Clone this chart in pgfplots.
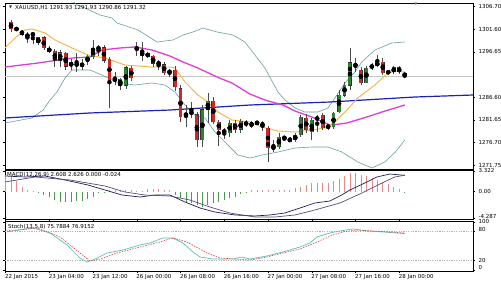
\documentclass[border=0pt]{standalone}
\usepackage{fontspec}
\setmainfont{DejaVu Sans}
\usepackage{pgfplots}
\usepackage{pgfplotstable}
\pgfplotsset{compat=1.18}
\definecolor{bullc}{HTML}{2E8036}
\definecolor{bearc}{HTML}{CC2A2A}
\definecolor{wickc}{HTML}{4A4A4A}
\definecolor{bbc}{HTML}{6A9FA0}
\definecolor{orangema}{HTML}{F2B850}
\definecolor{magma}{HTML}{E03CD8}
\definecolor{bluema}{HTML}{1A22B0}
\definecolor{histred}{HTML}{E58A8A}
\definecolor{histgreen}{HTML}{4E9A4E}
\definecolor{macdA}{HTML}{1C1C5C}
\definecolor{macdB}{HTML}{5A4A7A}
\definecolor{stochmain}{HTML}{5CC2B2}
\definecolor{stochsig}{HTML}{E03C3C}
\newcommand\tf{\fontsize{5.5}{6.5}\selectfont}

% bullish (and doji) candles: index, open, high, low, close
\pgfplotstableread{
i O H L C
2 1301.60 1301.90 1301.40 1301.70
5 1300.40 1300.90 1298.40 1300.60
10 1294.80 1297.00 1293.30 1296.40
12 1293.50 1295.10 1292.60 1294.30
13 1293.80 1296.40 1292.30 1293.90
15 1294.40 1296.00 1293.80 1295.70
16 1295.50 1299.20 1295.00 1297.30
17 1297.30 1298.10 1295.80 1297.50
20 1290.40 1292.20 1289.30 1290.60
22 1289.30 1293.60 1288.40 1293.10
24 1297.30 1298.80 1295.80 1297.50
30 1291.90 1292.90 1291.20 1292.60
33 1282.50 1285.00 1280.10 1283.20
36 1277.30 1285.00 1275.70 1283.90
37 1284.00 1287.60 1281.00 1285.80
41 1278.90 1281.60 1278.00 1281.00
43 1279.60 1281.90 1278.80 1281.40
45 1280.11 1281.50 1279.90 1281.21
46 1281.00 1281.40 1280.60 1281.10
49 1275.05 1277.20 1274.60 1276.15
50 1275.70 1278.80 1275.30 1277.90
51 1277.70 1278.10 1277.00 1277.80
53 1277.25 1278.80 1276.80 1278.35
54 1278.35 1282.70 1277.90 1282.30
56 1279.00 1282.10 1277.25 1281.65
57 1281.65 1282.70 1279.00 1282.30
60 1280.10 1283.40 1279.70 1283.20
61 1283.40 1288.20 1283.20 1287.10
62 1287.10 1290.00 1286.70 1289.30
63 1289.30 1297.50 1288.20 1294.20
66 1289.80 1293.50 1289.80 1293.10
67 1293.10 1294.20 1292.60 1293.70
68 1293.50 1295.90 1293.30 1294.40
70 1292.10 1292.60 1291.70 1292.20
71 1292.20 1293.50 1291.70 1293.10
}\bull

% bearish candles
\pgfplotstableread{
i O H L C
1 1303.18 1303.60 1301.00 1301.65
3 1301.20 1301.40 1300.20 1300.50
4 1300.50 1301.00 1298.60 1299.90
6 1299.70 1299.90 1298.10 1298.60
7 1299.70 1300.00 1297.00 1297.50
8 1297.50 1297.90 1296.30 1296.60
9 1296.80 1297.20 1293.30 1294.80
11 1296.40 1296.60 1292.60 1293.50
14 1293.80 1295.00 1292.60 1293.70
18 1297.50 1298.10 1294.10 1294.80
19 1295.00 1295.60 1284.30 1290.40
21 1290.60 1290.90 1288.20 1289.30
23 1293.10 1293.60 1290.20 1290.90
25 1296.60 1298.80 1294.60 1295.90
26 1296.20 1296.60 1295.30 1295.70
27 1295.70 1296.00 1293.30 1294.10
28 1294.20 1294.80 1292.60 1294.00
29 1293.80 1294.30 1291.60 1292.00
31 1292.60 1293.50 1288.00 1288.90
32 1288.50 1289.30 1281.20 1282.30
34 1283.30 1285.60 1282.10 1283.20
35 1282.80 1283.50 1275.70 1277.30
38 1285.80 1286.70 1280.80 1281.20
39 1281.20 1281.60 1276.00 1279.50
40 1279.40 1279.90 1277.50 1278.90
42 1281.00 1281.60 1278.80 1279.50
44 1281.21 1281.65 1280.11 1280.55
47 1281.20 1281.50 1279.20 1280.10
48 1279.90 1280.30 1272.40 1275.50
52 1277.30 1277.90 1276.80 1277.20
55 1282.10 1282.90 1278.80 1279.45
58 1282.70 1283.20 1279.45 1279.90
59 1280.50 1280.80 1279.50 1279.90
64 1294.20 1295.30 1292.20 1293.10
65 1292.60 1293.30 1289.30 1289.80
69 1294.40 1295.30 1291.50 1292.00
72 1293.10 1293.50 1291.70 1292.20
73 1291.93 1291.93 1290.86 1291.32
}\bear

% MACD histogram: positive part (r), negative part (g)
\pgfplotstableread{
i r g
0 2.70 0
1 2.43 0
2 1.62 0
3 0.81 0
4 0.27 0
5 0.10 0
6 0 -0.10
7 0 -0.54
8 0 -0.81
9 0 -1.35
10 0 -1.62
11 0 -1.62
12 0 -1.62
13 0 -1.51
14 0 -1.46
15 0 -1.24
16 0 -0.81
17 0 -0.30
18 0 -0.20
19 0.20 0
20 0.30 0
21 0.30 0
22 0.30 0
23 0.20 0
24 0.10 0
25 0.10 0
26 0.38 0
27 0.38 0
28 0.38 0
29 0.30 0
30 0.20 0
31 0 -0.54
32 0 -1.08
33 0 -1.62
34 0 -1.89
35 0 -2.16
36 0 -2.43
37 0 -2.16
38 0 -1.89
39 0 -1.62
40 0 -1.35
41 0 -1.08
42 0 -0.81
43 0 -0.43
44 0 -0.10
45 0.20 0
46 0.25 0
47 0.20 0
48 0.20 0
49 0.20 0
50 0.20 0
51 0.25 0
52 0.30 0
53 0.54 0
54 0.81 0
55 1.08 0
56 1.35 0
57 1.35 0
58 1.35 0
59 1.35 0
60 1.62 0
61 2.05 0
62 2.59 0
63 2.97 0
64 2.97 0
65 2.70 0
66 2.43 0
67 2.16 0
68 1.89 0
69 1.51 0
70 1.19 0
71 0.81 0
72 0.43 0
73 0 -0.02
}\hist

\pgfplotsset{
  panel/.style={scale only axis, width=468pt, xmin=-0.1, xmax=85.5,
    axis line style={line width=0.6pt, black},
    tick align=outside, major tick length=2pt,
    tick style={black, line width=0.4pt},
    yticklabel pos=right, ticklabel style={font=\tf},
    xtick=\empty, clip=true},
  candleW/.style={only marks, mark=none, forget plot,
    error bars/y dir=both, error bars/y explicit, error bars/error mark=none,
    error bars/error bar style={line width=0.6pt, color=wickc}},
}

\begin{document}
\begin{tikzpicture}
\path[use as bounding box] (0pt,0pt) rectangle (501pt,281pt);

% ===== main price panel =====
\begin{axis}[panel, at={(5pt,112pt)}, anchor=south west, height=166pt,
  ymin=1270.88, ymax=1307.36,
  ytick={1271.75,1276.70,1281.65,1286.60,1296.65,1301.60,1306.70},
  yticklabels={1271.75,1276.70,1281.65,1286.60,1296.65,1301.60,1306.70}]
% bid line
\addplot[gray!45, line width=0.4pt] coordinates {(-0.1,1291.32) (85.5,1291.32)};
% Bollinger bands
\addplot[bbc, line width=0.6pt] coordinates {
(9.96,1310.2) (13.07,1306.92) (14.53,1306.26) (17.28,1304.72) (19.47,1304.06)
(20.38,1302.96) (24.22,1301.43) (27.70,1298.79) (30.62,1299.23) (32.45,1300.33)
(34.28,1300.99) (36.11,1301.86) (38.67,1300.99) (41.59,1300.33) (43.78,1298.79)
(45.61,1295.93) (47.44,1293.07) (49.82,1287.80) (51.10,1286.04) (52.93,1284.28)
(54.75,1283.40) (57.13,1283.40) (58.96,1284.28) (60.24,1286.48) (62.07,1289.78)
(63.89,1292.19) (65.17,1294.39) (67.55,1297.03) (70.66,1298.57) (73.03,1298.79)};
\addplot[bbc, line width=0.6pt] coordinates {
(-0.1,1280.99) (4.84,1282.09) (6.86,1283.84) (8.14,1286.04) (9.41,1287.80)
(10.88,1290.88) (12.16,1292.63) (15.45,1292.63) (17.64,1291.53) (20.57,1289.78)
(23.67,1289.34) (26.78,1289.78) (29.16,1289.34) (30.99,1287.80) (32.82,1284.94)
(34.64,1282.75) (36.47,1282.09) (38.30,1279.01) (40.13,1276.81) (42.50,1273.95)
(44.70,1273.29) (46.89,1273.95) (49.82,1274.61) (52.93,1275.49) (56.03,1275.71)
(58.96,1275.71) (61.52,1274.61) (64.44,1272.42) (67.00,1271.10) (69.38,1272.42)
(71.30,1274.61) (73.03,1277.25)};
% blue slow MA
\addplot[bluema, line width=1.2pt] coordinates {
(-0.1,1282.09) (15.45,1283.19) (30.07,1283.84) (44.70,1284.94) (59.32,1285.60)
(74.9,1286.70) (85.5,1287.14)};
% magenta MA
\addplot[magma, line width=1.3pt] coordinates {
(-0.1,1293.29) (5.94,1294.17) (12.16,1295.27) (15.45,1295.49) (17.64,1297.03)
(20.93,1297.47) (23.67,1297.69) (26.78,1297.03) (30.07,1295.71) (32.45,1294.39)
(35.19,1293.07) (38.67,1291.10) (41.41,1289.78) (44.70,1287.36) (47.44,1286.04)
(50.73,1284.94) (52.93,1283.62) (56.03,1282.31) (59.32,1280.55) (61.15,1280.77)
(62.43,1280.99) (66.09,1282.31) (68.83,1283.40) (73.03,1284.94)};
% orange fast MA
\addplot[orangema, line width=1.0pt] coordinates {
(-0.1,1297.47) (1.74,1299.67) (3.56,1301.43) (4.84,1301.64) (7.22,1300.77)
(9.05,1299.23) (12.16,1297.47) (15.08,1295.93) (18.19,1295.27) (21.85,1293.73)
(26.78,1293.29) (30.07,1293.29) (30.99,1293.07) (32.82,1290.00) (35.19,1287.14)
(37.02,1285.60) (38.85,1283.40) (41.41,1281.65) (44.70,1281.21) (46.89,1280.11)
(49.82,1279.23) (52.93,1279.01) (56.03,1279.45) (58.41,1279.89) (60.24,1281.21)
(62.07,1283.40) (64.44,1286.48) (67.55,1289.34) (69.93,1291.97) (71.30,1292.41)
(73.03,1292.19)};
% candles: wicks
\addplot[candleW] table[x=i, y expr={(\thisrow{H}+\thisrow{L})/2}, y error expr={(\thisrow{H}-\thisrow{L})/2}] \bull;
\addplot[candleW] table[x=i, y expr={(\thisrow{H}+\thisrow{L})/2}, y error expr={(\thisrow{H}-\thisrow{L})/2}] \bear;
% bodies: thin dark outline then fill
\addplot[candleW, error bars/error bar style={line width=3.8pt, color=black!80}] table[x=i, y expr={(\thisrow{O}+\thisrow{C})/2}, y error expr={abs(\thisrow{C}-\thisrow{O})/2+0.09}] \bull;
\addplot[candleW, error bars/error bar style={line width=3.8pt, color=black!80}] table[x=i, y expr={(\thisrow{O}+\thisrow{C})/2}, y error expr={abs(\thisrow{C}-\thisrow{O})/2+0.09}] \bear;
\addplot[candleW, error bars/error bar style={line width=3.0pt, color=bullc}] table[x=i, y expr={(\thisrow{O}+\thisrow{C})/2}, y error expr={abs(\thisrow{C}-\thisrow{O})/2}] \bull;
\addplot[candleW, error bars/error bar style={line width=3.0pt, color=bearc}] table[x=i, y expr={(\thisrow{O}+\thisrow{C})/2}, y error expr={abs(\thisrow{C}-\thisrow{O})/2}] \bear;
% labels
\node[anchor=west, font=\tf, inner sep=0pt] at (rel axis cs:0,1) [xshift=10pt, yshift=-4.5pt] {XAUUSD,H1 1291.93 1291.93 1290.86 1291.32};
\node[anchor=west, font=\fontsize{4}{4}\selectfont, inner sep=0pt, text=black!80] at (rel axis cs:0,1) [xshift=4pt, yshift=-4.5pt] {▼};
\node[font=\fontsize{4}{4}\selectfont, inner sep=0pt, text=gray] at (rel axis cs:0.878,1) [yshift=-1.5pt] {▼};
\node[anchor=west, fill=black, text=white, font=\tf, inner sep=1pt] at (axis cs:85.5,1291.32) [xshift=1pt] {1291.32};
\end{axis}

% ===== MACD panel =====
\begin{axis}[panel, at={(5pt,62pt)}, anchor=south west, height=49pt,
  ymin=-4.45, ymax=3.48,
  ytick={3.322,0,-4.287},
  yticklabels={\raisebox{-3pt}{3.322},0.00,\raisebox{3pt}{-4.287}}]
\addplot[ycomb, histred, line width=0.7pt, mark=none] table[x=i, y=r] \hist;
\addplot[ycomb, histgreen, line width=0.7pt, mark=none] table[x=i, y=g] \hist;
\addplot[macdA, line width=0.7pt] coordinates {
(-0.1,2.51) (3.56,2.35) (7.22,2.51) (10.88,1.86) (15.08,1.05) (18.19,0.24)
(21.30,-0.57) (24.59,-0.89) (27.33,-0.57) (30.07,-0.57) (32.82,-1.70) (35.56,-2.67)
(38.30,-3.32) (41.96,-3.80) (45.61,-3.96) (48.35,-3.80) (51.10,-3.48) (53.84,-2.67)
(56.58,-1.86) (59.32,-1.54) (61.15,-0.73) (62.98,0.24) (65.72,1.38) (67.92,2.35)
(70.29,2.83) (73.03,2.61)};
\addplot[macdB, line width=0.7pt] coordinates {
(-0.1,1.54) (5.39,2.35) (11.79,1.86) (18.19,0.89) (21.85,-0.08) (25.52,-0.57)
(30.07,-0.73) (33.73,-1.38) (37.39,-2.51) (41.04,-3.48) (45.61,-4.13) (49.27,-4.13)
(52.93,-3.80) (56.58,-2.99) (61.15,-1.86) (64.81,-0.40) (68.47,1.21) (71.21,2.35)
(73.03,2.63)};
\node[anchor=west, font=\tf, inner sep=0pt] at (rel axis cs:0,1) [xshift=2pt, yshift=-5pt] {MACD(12,26,9) 2.608 2.626 0.000 -0.024};
\end{axis}

% ===== Stochastic panel =====
\begin{axis}[panel, at={(5pt,10pt)}, anchor=south west, height=50pt,
  ymin=-2, ymax=102,
  ytick={100,80,20,0},
  yticklabels={\raisebox{-2pt}{100},\raisebox{3.5pt}{80},20,\raisebox{5pt}{0}},
  xtick={0,8,16,24,32,40,48,56,64,72},
  xticklabels={22 Jan 2015,23 Jan 04:00,23 Jan 12:00,26 Jan 00:00,26 Jan 08:00,26 Jan 16:00,27 Jan 00:00,27 Jan 08:00,27 Jan 16:00,28 Jan 00:00},
  xticklabel style={anchor=north west, inner sep=0pt, yshift=-1.5pt, xshift=-0.5pt}]
\addplot[gray!60, line width=0.4pt, dash pattern=on 1.2pt off 1.2pt] coordinates {(-0.1,80) (85.5,80)};
\addplot[gray!60, line width=0.4pt, dash pattern=on 1.2pt off 1.2pt] coordinates {(-0.1,20) (85.5,20)};
\addplot[stochmain, line width=0.7pt] coordinates {
(0.18,79.2) (5.03,87.5) (8.14,77.1) (11.24,52.1) (13.62,25.0) (14.90,16.7) (16.0,20.8)
(18.56,35.4) (21.48,41.7) (24.59,52.1) (26.42,56.3) (28.79,66.7) (30.62,66.7)
(32.45,56.3) (34.28,37.5) (35.56,27.1) (37.93,22.9) (41.59,22.9) (43.24,27.1)
(44.70,22.9) (47.81,29.2) (50.73,37.5) (53.84,47.9) (55.67,56.3) (56.95,68.8)
(59.32,77.1) (61.15,81.3) (63.53,85.4) (66.09,81.3) (69.01,79.2) (73.03,75.79)};
\addplot[stochsig, line width=0.6pt, dash pattern=on 1.5pt off 1.2pt] coordinates {
(0.18,81.3) (5.76,87.5) (9.96,68.8) (13.62,35.4) (15.45,18.8) (17.28,22.9)
(20.38,35.4) (24.59,47.9) (28.24,58.3) (30.62,66.7) (33.18,58.3) (36.84,35.4)
(39.22,25.0) (44.70,20.8) (47.81,27.1) (50.73,35.4) (53.84,43.8) (56.95,58.3)
(59.87,72.9) (61.70,79.2) (64.26,83.3) (67.19,81.3) (70.29,79.2) (73.03,76.92)};
\node[anchor=west, font=\tf, inner sep=0pt] at (rel axis cs:0,1) [xshift=3pt, yshift=-6pt] {Stoch(13,5,8) 75.7884 76.9152};
\end{axis}
\end{tikzpicture}
\end{document}
